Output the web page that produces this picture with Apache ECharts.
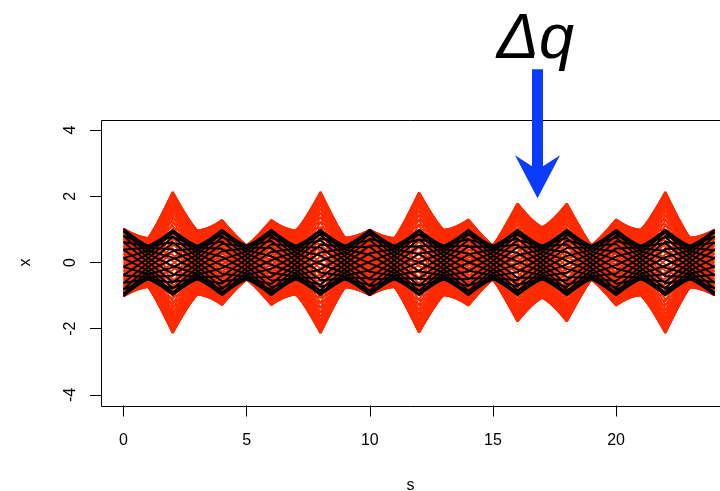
<!DOCTYPE html>
<html>
<head>
<meta charset="utf-8">
<script src="https://cdn.jsdelivr.net/npm/echarts@6/dist/echarts.min.js"></script>
<style>html,body{margin:0;padding:0;background:#fff}#c{width:720px;height:491px}</style>
</head>
<body>
<div id="c"></div>
<script>
// ---- data ----
const sValues = [0,1,2,3,4,5,6,7,8,9,10,11,12,13,14,15,16,17,18,19,20,21,22,23,24];
// envelope (max |x|) of the nominal (black) trajectories at each s
const blackEnvelope = [1.02,0.51,0.98,0.51,0.99,0.51,0.99,0.51,0.99,0.51,0.99,0.51,0.99,0.51,0.99,0.51,0.99,0.51,0.99,0.51,0.99,0.51,0.99,0.51,0.99];
// envelope of the perturbed (red) trajectories at each s
const redEnvelope = [1.02,0.74,2.13,0.97,1.28,0.52,1.28,0.97,2.13,0.75,0.99,0.74,2.12,0.99,1.30,0.52,1.78,1.07,1.78,0.52,1.30,0.99,2.13,0.75,0.99];
// betatron phase advance per unit of s (degrees)
const blackPhaseStep = [36.9,36.9,36.9,36.9,36.9,36.9,36.9,36.9,36.9,36.9,36.9,36.9,36.9,36.9,36.9,36.9,36.9,36.9,36.9,36.9,36.9,36.9,36.9,36.9];
const redPhaseStep = [36.9,36.9,36.9,36.9,36.9,36.9,36.9,36.9,36.9,36.9,36.9,36.9,36.9,36.9,36.9,36.9,36.9,36.9,36.9,36.9,36.9,36.9,36.9,36.9];
const blackParticles = 24;
const redParticles = 72;
const xTicks = [0,5,10,15,20];
const yTicks = [-4,-2,0,2,4];
const annotationText = 'Δq';
const arrowPoint = [16.81, 1.94];

function track(env, steps, phi0) {
  const out = [];
  let psi = phi0;
  for (let i = 0; i < sValues.length; i++) {
    out.push([sValues[i], env[i] * Math.cos(psi * Math.PI / 180)]);
    if (i < steps.length) psi += steps[i];
  }
  return out;
}

const series = [];
for (let k = 0; k < redParticles; k++) {
  series.push({type:'line', data: track(redEnvelope, redPhaseStep, 360*k/redParticles), symbol:'none',
    lineStyle:{color:'#ff2a00', width:2}, silent:true, animation:false, z:1});
}
for (let k = 0; k < blackParticles; k++) {
  series.push({type:'line', data: track(blackEnvelope, blackPhaseStep, 360*k/blackParticles + 7.5), symbol:'none',
    lineStyle:{color:'#000000', width:2}, silent:true, animation:false, z:2});
}

const chart = echarts.init(document.getElementById('c'), null, {renderer:'canvas'});
const font = '"Liberation Sans", Arial, Helvetica, sans-serif';
chart.setOption({
  animation:false,
  backgroundColor:'#ffffff',
  grid:{left:101, top:119.5, right:0, height:286, show:false, outerBoundsMode:'none', containLabel:false},
  xAxis:{type:'value', min:-0.914, max:24.22,
    name:'s', nameLocation:'middle', nameGap:72, nameTextStyle:{fontSize:16, fontFamily:font, color:'#000'},
    axisLine:{show:false, onZero:false}, splitLine:{show:false},
    axisTick:{show:true, inside:false, length:11, customValues:xTicks, lineStyle:{color:'#000'}},
    axisLabel:{show:true, margin:27, fontSize:16, fontFamily:font, color:'#000', customValues:xTicks}},
  yAxis:{type:'value', min:-4.32, max:4.32,
    name:'x', nameLocation:'middle', nameGap:67, nameRotate:90, nameTextStyle:{fontSize:16, fontFamily:font, color:'#000'},
    axisLine:{show:false, onZero:false}, splitLine:{show:false},
    axisTick:{show:true, inside:false, length:11, customValues:yTicks, lineStyle:{color:'#000'}},
    axisLabel:{show:true, margin:22, rotate:90, fontSize:16, fontFamily:font, color:'#000', customValues:yTicks}},
  series: series
});

const tl = chart.convertToPixel({gridIndex:0}, [-0.914, 4.32]);
const br = chart.convertToPixel({gridIndex:0}, [24.22, -4.32]);
const L = Math.round(tl[0]) + 0.5, T = Math.round(tl[1]) + 0.5, B = Math.round(br[1]) + 0.5;
const tip = chart.convertToPixel({gridIndex:0}, arrowPoint);
const cx = tip[0], ty = tip[1];
chart.setOption({
  graphic:[
    {type:'polyline', z:100, shape:{points:[[720, T],[L, T],[L, B],[720, B]]}, style:{stroke:'#000', lineWidth:1, fill:null}},
    {type:'polygon', z:100, shape:{points:[
      [cx-5.5, ty-129],[cx+5.5, ty-129],[cx+5.5, ty-32],[cx+22.5, ty-43],[cx, ty],[cx-22.5, ty-43],[cx-5.5, ty-32]]},
      style:{fill:'#0b3bff'}},
    {type:'text', z:100, x:cx-2, y:ty-158, style:{text:annotationText, fontSize:63, fontStyle:'italic',
      fontFamily:font, fill:'#000', align:'center', verticalAlign:'middle'}}
  ]
});
</script>
</body>
</html>
